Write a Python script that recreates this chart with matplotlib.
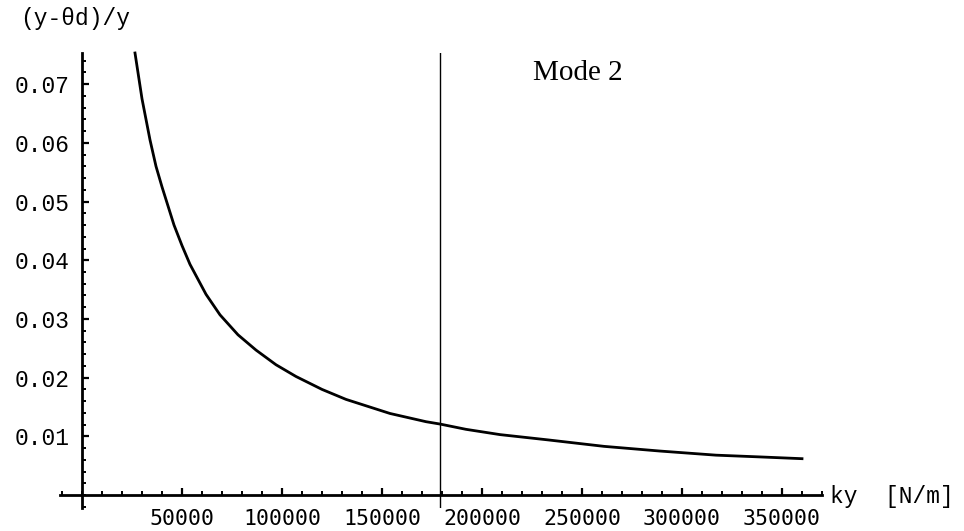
import numpy as np
import matplotlib
matplotlib.use("Agg")
import matplotlib.pyplot as plt
from matplotlib.ticker import MultipleLocator

# values
ky = [26500, 30000, 34000, 37000, 40000, 46000, 50000, 54000, 62000, 69000, 78000, 87000,
      97000, 107000, 120000, 132000, 154000, 172000, 179000, 192000, 209000,
      233000, 261000, 289000, 317000, 339000, 360000]
ratio = [0.0753, 0.0675, 0.0605, 0.0560, 0.0525, 0.0460, 0.0425, 0.0393, 0.0342, 0.0307, 0.0273, 0.0247,
         0.0222, 0.0202, 0.0180, 0.0163, 0.0139, 0.0125, 0.0121, 0.0112, 0.0103,
         0.0094, 0.0083, 0.0075, 0.0068, 0.0065, 0.0062]
marker_ky = 179000
x_ticks = [50000, 100000, 150000, 200000, 250000, 300000, 350000]
y_ticks = [0.01, 0.02, 0.03, 0.04, 0.05, 0.06, 0.07]

mono = ["Liberation Mono", "DejaVu Sans Mono"]


def plot():
	fig = plt.figure(figsize=(9.64, 5.31), dpi=100)
	W, H = 964.0, 531.0
	ax = fig.add_axes([60 / W, 1 - 508 / H, (822 - 60) / W, (508 - 53) / H])
	ax.set_xlim(-11000, 370000)
	ax.set_ylim(-0.0022, 0.0753)

	ax.plot(ky, ratio, color="black", lw=2.0, clip_on=False)
	ax.axvline(marker_ky, color="black", lw=1.0)

	for s in ["top", "right"]:
		ax.spines[s].set_visible(False)
	ax.spines["left"].set_position(("data", 0))
	ax.spines["bottom"].set_position(("data", 0))
	ax.spines["left"].set_linewidth(2.0)
	ax.spines["bottom"].set_linewidth(2.0)

	ax.set_xticks(x_ticks)
	ax.set_xticklabels([str(v) for v in x_ticks], family=["DejaVu Sans Mono"], fontsize=15.5)
	ax.set_yticks(y_ticks)
	ax.set_yticklabels(["%.2f" % v for v in y_ticks], family=mono, fontsize=16.5)
	ax.xaxis.set_minor_locator(MultipleLocator(10000))
	ax.yaxis.set_minor_locator(MultipleLocator(0.002))
	ax.tick_params(which="major", direction="in", length=5, width=1.6)
	ax.tick_params(which="minor", direction="in", length=3, width=1.4)
	ax.tick_params(axis="x", which="major", pad=10)
	ax.tick_params(axis="y", which="major", pad=9)

	fig.text(20 / W, 1 - 18 / H, "(y-θd)/y", family=mono, fontsize=16.5, va="center", ha="left")
	fig.text(830 / W, 1 - 496 / H, "ky  [N/m]", family=mono, fontsize=16.5, va="center", ha="left")
	ax.text(225500, 0.0707, "Mode 2", family=["Liberation Serif"], fontsize=21,
		ha="left", va="baseline")

	fig.savefig("out.png", dpi=100)


if __name__ == "__main__":
	plot()
